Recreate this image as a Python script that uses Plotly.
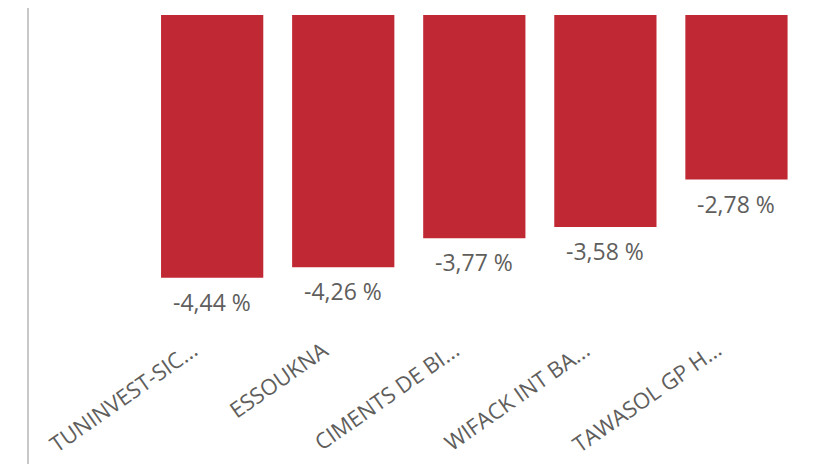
import plotly.graph_objects as go

categories = ["TUNINVEST-SIC...", "ESSOUKNA", "CIMENTS DE BI...", "WIFACK INT BA...", "TAWASOL GP H..."]
values = [-4.44, -4.26, -3.77, -3.58, -2.78]
labels = ["-4,44 %", "-4,26 %", "-3,77 %", "-3,58 %", "-2,78 %"]

TEXT = "#605E5C"
fig = go.Figure()
fig.add_trace(go.Bar(
    x=categories, y=values, cliponaxis=False,
    marker=dict(color="#C02834", line=dict(width=0)),
))

annotations = []
for c, v, t in zip(categories, values, labels):
    annotations.append(dict(x=c, y=v, xref="x", yref="y", text=t, showarrow=False,
                            xanchor="center", yanchor="top", yshift=-6,
                            font=dict(family="Open Sans", size=23, color=TEXT)))
    annotations.append(dict(x=c, y=0, xref="x", yref="paper", text=c, showarrow=False,
                            textangle=-35, xanchor="right", yanchor="top",
                            xshift=-7, yshift=-1,
                            font=dict(family="Open Sans", size=22, color=TEXT)))

fig.update_layout(
    width=814, height=464,
    margin=dict(l=20, r=20, t=0, b=142),
    paper_bgcolor="white", plot_bgcolor="white",
    bargap=0.22, showlegend=False,
    font=dict(family="Open Sans", color=TEXT),
    xaxis=dict(range=[-1.405, 4.5], showticklabels=False, showgrid=False, zeroline=False,
               showline=False, ticks=""),
    yaxis=dict(range=[-5.321, 0.118], visible=False, showgrid=False, zeroline=False),
    annotations=annotations,
    shapes=[dict(type="line", xref="paper", yref="paper", x0=0, x1=0, y0=-0.6, y1=1.1,
                 line=dict(color="#C8C8C8", width=2))],
)
fig.write_html("out.html")
